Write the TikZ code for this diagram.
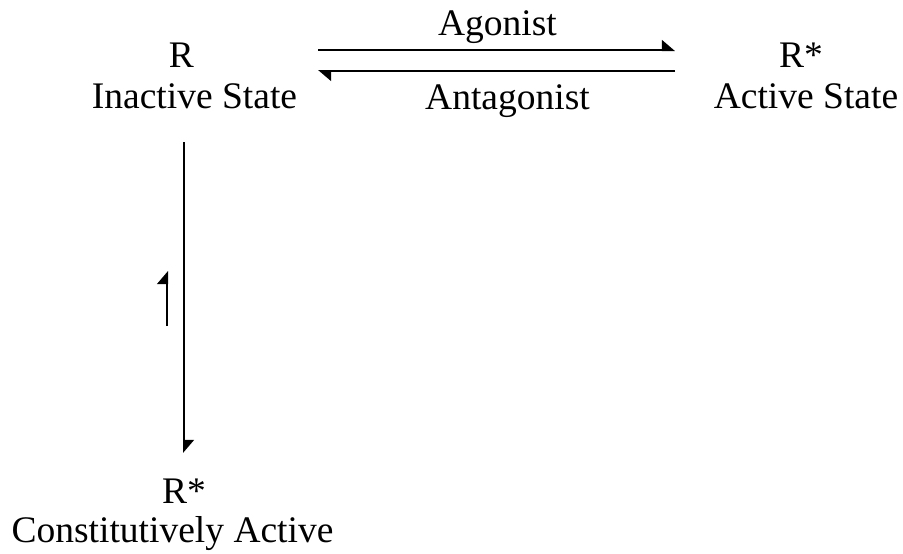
\documentclass[tikz,border=0pt]{standalone}
\usepackage{fontspec}
\setmainfont{Liberation Serif}
\usetikzlibrary{arrows.meta}
\begin{document}
\begin{tikzpicture}[x=1pt,y=-1pt,
  lbl/.style={anchor=base,inner sep=0pt,font=\fontsize{37.5}{41}\selectfont},
  harp/.style={line width=2pt,-{Triangle[harpoon,length=12pt,width=20pt]}}]
\useasboundingbox (0,0) rectangle (903,554);
\node[lbl] (R) at (181.5,67) {R};
\node[lbl] (Rinact) at (194.5,108) {Inactive State};
\node[lbl] (Ract) at (801,67) {R*};
\node[lbl] (Ractive) at (806,108) {Active State};
\node[lbl] (Rc) at (184,503) {R*};
\node[lbl] (Rconst) at (172.5,542) {Constitutively Active};
\node[lbl] (ago) at (497.5,35) {Agonist};
\node[lbl] (antago) at (507.5,109) {Antagonist};
\coordinate (a1) at (318,50);
\coordinate (a2) at (675,50);
\coordinate (b1) at (675,71);
\coordinate (b2) at (318,71);
\coordinate (v1) at (184,142);
\coordinate (v2) at (184,453);
\coordinate (s1) at (167,326);
\coordinate (s2) at (167,271);
\draw[harp] (a1) -- (a2);
\draw[harp] (b1) -- (b2);
\draw[harp] (v1) -- (v2);
\draw[harp] (s1) -- (s2);
\end{tikzpicture}
\end{document}
